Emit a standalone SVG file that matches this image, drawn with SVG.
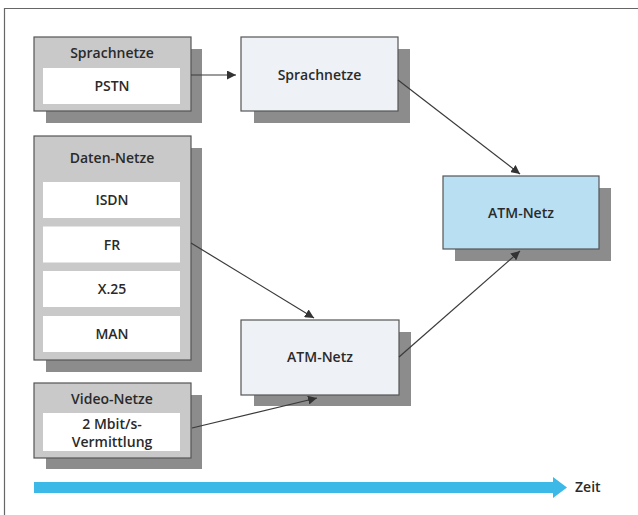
<svg xmlns="http://www.w3.org/2000/svg" width="638" height="515" viewBox="0 0 638 515">
<defs>
<style>
.t{font-family:"Open Sans","Liberation Sans",sans-serif;font-weight:600;font-size:14px;fill:#2a2a2a;text-anchor:middle}
.sh{fill:#8c8c8c}
.grp{fill:#c9c9c9;stroke:#555;stroke-width:1.2}
.in{fill:#ffffff}
.node{fill:#eef1f6;stroke:#555;stroke-width:1.2}
.atm{fill:#b9dff3;stroke:#555;stroke-width:1.2}
.c{stroke:#3a3a3a;stroke-width:1.2;fill:none;marker-end:url(#ah)}
</style>
<marker id="ah" viewBox="0 0 10 10" refX="10" refY="5" markerWidth="9" markerHeight="9" markerUnits="userSpaceOnUse" orient="auto">
<path d="M0,0 L10,5 L0,10 z" fill="#333"/>
</marker>
</defs>
<rect width="638" height="515" fill="#ffffff"/>
<path d="M4.5,515 V8.5 H638" fill="none" stroke="#666" stroke-width="1.2"/>

<g id="sprachnetze-group">
<rect class="sh" x="46" y="49" width="156" height="74"/>
<rect class="grp" x="34" y="37" width="157" height="74"/>
<text class="t" x="112" y="58">Sprachnetze</text>
<rect class="in" x="43" y="68" width="137" height="36"/>
<text class="t" x="112" y="90.5">PSTN</text>
</g>

<g id="daten-netze-group">
<rect class="sh" x="46" y="148" width="156" height="224"/>
<rect class="grp" x="34" y="136" width="157" height="224"/>
<text class="t" x="112" y="163">Daten-Netze</text>
<rect class="in" x="43" y="182" width="137" height="36"/>
<text class="t" x="112" y="205">ISDN</text>
<rect class="in" x="43" y="226.5" width="137" height="36"/>
<text class="t" x="112" y="249.5">FR</text>
<rect class="in" x="43" y="271" width="137" height="36"/>
<text class="t" x="112" y="294">X.25</text>
<rect class="in" x="43" y="316" width="137" height="36"/>
<text class="t" x="112" y="339">MAN</text>
</g>

<g id="video-netze-group">
<rect class="sh" x="46" y="395" width="156" height="74"/>
<rect class="grp" x="34" y="383" width="157" height="75"/>
<text class="t" x="112" y="404">Video-Netze</text>
<rect class="in" x="43" y="413" width="137" height="38"/>
<text class="t" x="112" y="429">2 Mbit/s-</text>
<text class="t" x="112" y="447">Vermittlung</text>
</g>

<g id="sprachnetze-node">
<rect class="sh" x="254" y="49" width="156" height="74"/>
<rect class="node" x="241" y="37" width="157" height="74"/>
<text class="t" x="319.5" y="80">Sprachnetze</text>
</g>

<g id="atm-netz-mid">
<rect class="sh" x="254" y="332" width="157" height="74"/>
<rect class="node" x="241" y="320" width="158" height="75"/>
<text class="t" x="320" y="362">ATM-Netz</text>
</g>

<g id="atm-netz-right">
<rect class="sh" x="455" y="188" width="156" height="73"/>
<rect class="atm" x="443" y="176" width="156" height="73"/>
<text class="t" x="521" y="218">ATM-Netz</text>
</g>

<g id="connectors">
<line class="c" x1="191" y1="75" x2="236" y2="75"/>
<line class="c" x1="398" y1="80" x2="520" y2="174"/>
<line class="c" x1="191" y1="243" x2="314" y2="318"/>
<line class="c" x1="399" y1="357" x2="520" y2="251"/>
<line class="c" x1="192" y1="428" x2="317" y2="398"/>
</g>

<g id="zeit-axis">
<path d="M34,482 H553 V477 L567,487.5 L553,498 V493 H34 Z" fill="#3cb9e6"/>
<text x="575" y="492" font-family="Open Sans, Liberation Sans, sans-serif" font-weight="600" font-size="14" fill="#2a2a2a">Zeit</text>
</g>
</svg>
